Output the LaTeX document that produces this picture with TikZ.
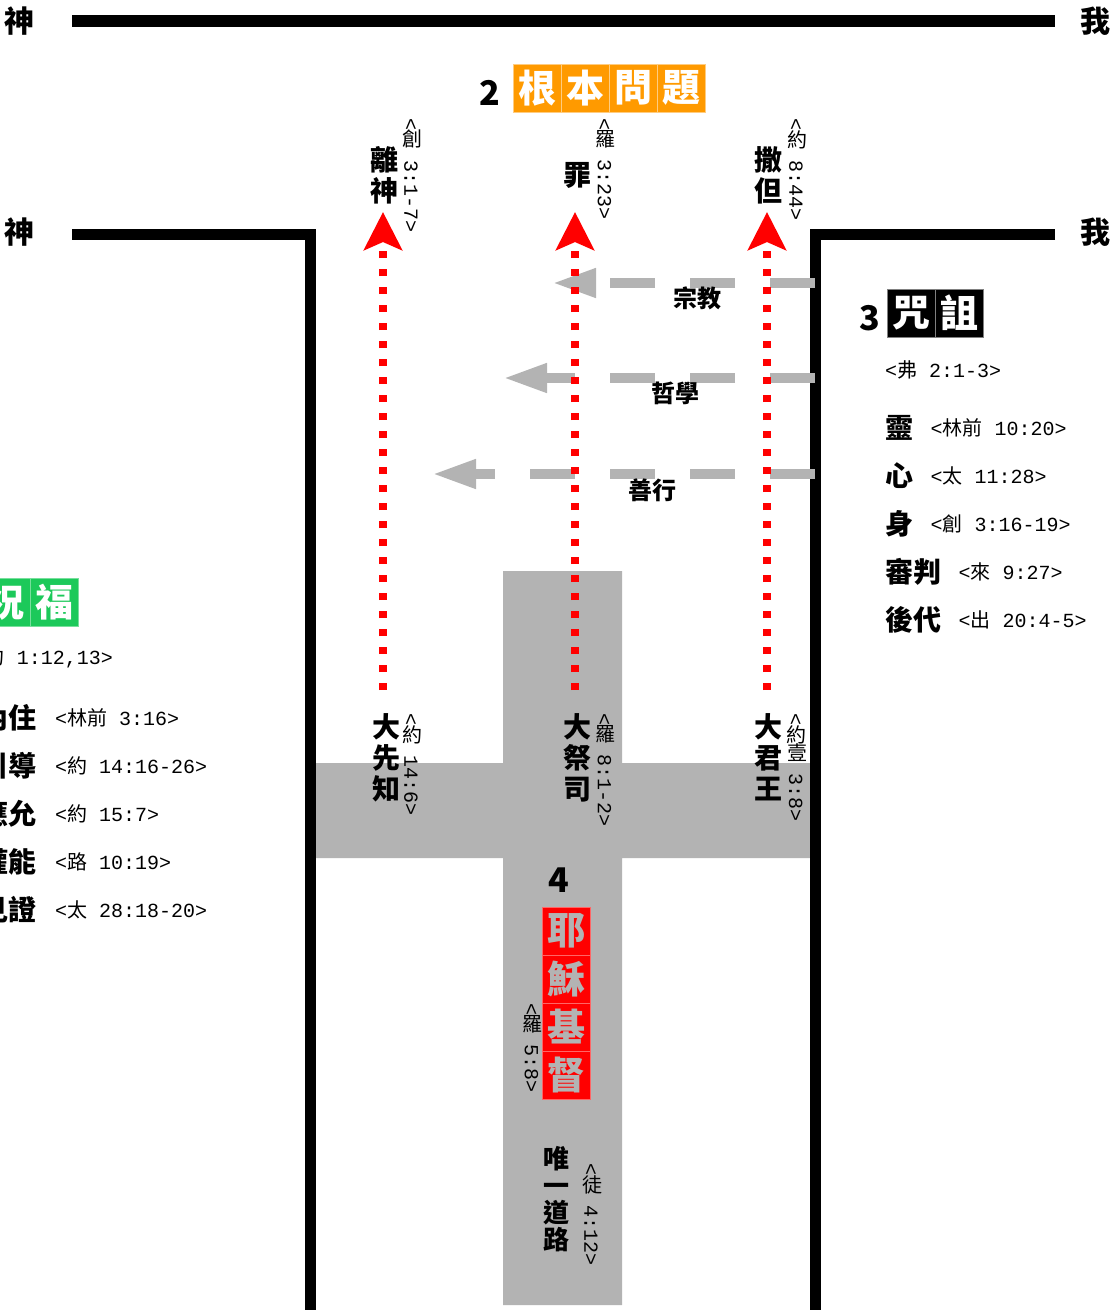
\documentclass[tikz,border=0pt]{standalone}
\usepackage{fontspec}
\setmainfont{Noto Sans CJK TC}
\newfontfamily\mono{Liberation Mono}
\usetikzlibrary{arrows.meta, positioning}
\definecolor{crossgray}{HTML}{B3B3B3}
\definecolor{headorange}{HTML}{FF9A00}
\definecolor{headgreen}{HTML}{1CC95A}
\newcommand\bref[2]{{\mono<}#1{\mono\ #2>}}
\newcommand\up[1]{\rotatebox[origin=c]{90}{#1}}
\newcommand\vbref[2]{\rotatebox{-90}{{\mono<}#1{\mono\ #2>}}}

\begin{document}
\begin{tikzpicture}[x=1pt, y=-1pt,
    wall/.style={line width=11pt},
    hcell/.style={minimum size=48pt, inner sep=0pt, text=white, font=\bfseries\fontsize{38}{38}\selectfont},
    word/.style={font=\bfseries\fontsize{28}{31}\selectfont, align=center, inner sep=0pt},
    vref/.style={font=\fontsize{20}{20}\selectfont, inner sep=0pt, anchor=north},
    ref/.style={font=\fontsize{20}{20}\selectfont, inner sep=0pt},
    num/.style={font=\bfseries\fontsize{34}{34}\selectfont, inner sep=0pt},
    way/.style={font=\bfseries\fontsize{24}{24}\selectfont, inner sep=0pt},
    reddots/.style={red, line width=8pt, dash pattern=on 7pt off 11pt, -{Stealth[length=38pt, width=38pt, inset=8pt]}},
    grayarrow/.style={crossgray, line width=10pt, dash pattern=on 45pt off 35pt, -{Triangle[length=44pt, width=27pt]}}]
    \useasboundingbox (0,0) rectangle (1115,1310);
    \clip (0,0) rectangle (1115,1310);

    \fill[crossgray] (503,571) rectangle (622,1305)
        (310,763) rectangle (813,858);

    \draw[line width=12pt] (72,21) -- (1055,21);
    \draw[wall] (72,234.5) -- (310.5,234.5) -- (310.5,1320);
    \draw[wall] (1055,234.5) -- (815.5,234.5) -- (815.5,1320);

    \node[word, font=\bfseries\fontsize{30}{30}\selectfont] (god1) at (20,21) {神};
    \node[word, font=\bfseries\fontsize{30}{30}\selectfont] (me1) at (1095,21) {我};
    \node[word, font=\bfseries\fontsize{30}{30}\selectfont] (god2) at (20,232) {神};
    \node[word, font=\bfseries\fontsize{30}{30}\selectfont] (me2) at (1095,232) {我};

    \node[num] (n2) at (490,93) {2};
    \foreach \c [count=\i from 0] in {根,本,問,題}
        \node[hcell, fill=headorange, draw=headorange!50!white] (q\i) at (537+48*\i,88) {\c};

    \coordinate (w1) at (815,283);
    \coordinate (t1) at (552,283);
    \coordinate (w2) at (815,378);
    \coordinate (t2) at (503,378);
    \coordinate (w3) at (815,474);
    \coordinate (t3) at (432,474);
    \draw[grayarrow] (w1) -- (t1);
    \draw[grayarrow] (w2) -- (t2);
    \draw[grayarrow] (w3) -- (t3);
    \node[way] (religion) at (697,298) {宗教};
    \node[way] (philo) at (675,393) {哲學};
    \node[way] (works) at (652,490) {善行};

    \coordinate (p1) at (383,690);
    \coordinate (s1) at (383,212);
    \coordinate (p2) at (575,690);
    \coordinate (s2) at (575,212);
    \coordinate (p3) at (767,690);
    \coordinate (s3) at (767,212);
    \draw[reddots] (p1) -- (s1);
    \draw[reddots] (p2) -- (s2);
    \draw[reddots] (p3) -- (s3);

    \node[word] (leave) at (384,175) {離\\神};
    \node[vref] (leaveref) at (412,118) {\vbref{\up{創}}{3:1-7}};
    \node[word] (sin) at (577,175) {罪};
    \node[vref] (sinref) at (605,118) {\vbref{\up{羅}}{3:23}};
    \node[word] (satan) at (768,175) {撒\\但};
    \node[vref] (satanref) at (797,118) {\vbref{\up{約}}{8:44}};

    \node[word, anchor=north] (prophet) at (386,713) {大\\先\\知};
    \node[vref] (prophetref) at (412,713) {\vbref{\up{約}}{14:6}};
    \node[word, anchor=north] (priest) at (577,713) {大\\祭\\司};
    \node[vref] (priestref) at (605,713) {\vbref{\up{羅}}{8:1-2}};
    \node[word, anchor=north] (king) at (768,713) {大\\君\\王};
    \node[vref] (kingref) at (797,713) {\vbref{\up{約}\up{壹}}{3:8}};

    \node[num] (n3) at (870,318) {3};
    \foreach \c [count=\i from 0] in {咒,詛}
        \node[hcell, fill=black, draw=gray] (c\i) at (911+48*\i,313) {\c};
    \node[ref, anchor=west] (cref) at (885,370) {\bref{弗}{2:1-3}};
    \foreach \w/\b/\v [count=\i] in {靈/林前/10:20, 心/太/11:28, 身/創/3:16-19, 審判/來/9:27, 後代/出/20:4-5} {
        \node[word, anchor=west] (k\i) at (885,380+48*\i) {\w};
        \node[ref, right=17pt of k\i] (kr\i) {\bref{\b}{\v}};
    }

    \foreach \c [count=\i from 0] in {祝,福}
        \node[hcell, fill=headgreen, draw=headgreen!60!white] (b\i) at (6+48*\i,602) {\c};
    \node[ref, anchor=east] (bref) at (113,658) {\bref{約}{1:12,13}};
    \foreach \w/\b/\v [count=\i] in {聖靈內住/林前/3:16, 聖靈引導/約/14:16-26, 禱告應允/約/15:7, 權能/路/10:19, 見證/太/28:18-20} {
        \node[word, anchor=east] (g\i) at (37,670+48*\i) {\w};
        \node[ref, anchor=west] (gr\i) at (55,670+48*\i) {\bref{\b}{\v}};
    }

    \node[num] (n4) at (559,880) {4};
    \foreach \c [count=\i from 0] in {耶,穌,基,督}
        \node[hcell, fill=red, draw=red!60!white, text=crossgray] (j\i) at (566,931+48*\i) {\c};
    \node[vref] (jref) at (532,1003) {\vbref{\up{羅}}{5:8}};
    \node[word, anchor=north, font=\bfseries\fontsize{26}{27}\selectfont] (way) at (556,1146) {唯\\一\\道\\路};
    \node[vref] (wayref) at (592,1163) {\vbref{\up{徒}}{4:12}};
\end{tikzpicture}
\end{document}
